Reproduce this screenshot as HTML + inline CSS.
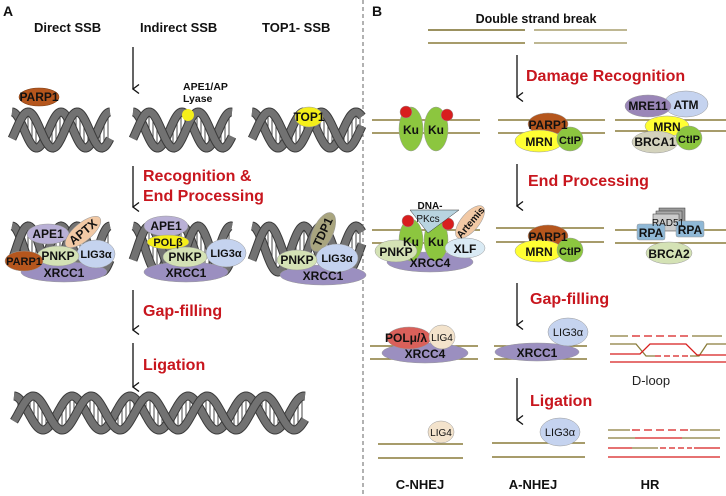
<!DOCTYPE html>
<html><head><meta charset="utf-8"><style>
body{margin:0;background:#fff}
svg{display:block;font-family:"Liberation Sans",Arial,sans-serif}
.b{font-weight:bold;fill:#111}
.r{font-weight:bold;fill:#c8161e;font-size:16px}
.p{font-weight:bold;font-size:12px;text-anchor:middle;fill:#111}
</style></head><body>
<svg id="s" width="726" height="496" viewBox="0 0 726 496" xmlns="http://www.w3.org/2000/svg">
<defs><marker id="ah" markerWidth="10" markerHeight="10" refX="5" refY="9" orient="auto" markerUnits="userSpaceOnUse"><path d="M0.5,3 L5,9 L9.5,3" fill="none" stroke="#111" stroke-width="1.3"/></marker></defs>
<g id="helices"></g>
<line x1="363" y1="0" x2="363" y2="496" stroke="#666" stroke-dasharray="4,3"/>
<text x="3" y="16" class="b" font-size="14">A</text>
<text x="372" y="16" class="b" font-size="14">B</text>
<text x="34" y="32" class="b" font-size="13">Direct SSB</text>
<text x="140" y="32" class="b" font-size="13">Indirect SSB</text>
<text x="262" y="32" class="b" font-size="13">TOP1- SSB</text>
<g stroke="#111" stroke-width="1.3" marker-end="url(#ah)">
<line x1="133" y1="47" x2="133" y2="89"/>
<line x1="133" y1="166" x2="133" y2="207"/>
<line x1="133" y1="290" x2="133" y2="330"/>
<line x1="133" y1="343" x2="133" y2="387"/>
<line x1="517" y1="55" x2="517" y2="97"/>
<line x1="517" y1="164" x2="517" y2="206"/>
<line x1="517" y1="283" x2="517" y2="325"/>
<line x1="517" y1="378" x2="517" y2="420"/>
</g>
<text x="143" y="181" class="r">Recognition &amp;</text>
<text x="143" y="201" class="r">End Processing</text>
<text x="143" y="316" class="r">Gap-filling</text>
<text x="143" y="370" class="r">Ligation</text>
<text x="526" y="81" class="r">Damage Recognition</text>
<text x="528" y="186" class="r">End Processing</text>
<text x="530" y="304" class="r">Gap-filling</text>
<text x="530" y="406" class="r">Ligation</text>
<text x="536" y="23" class="b" font-size="12.5" text-anchor="middle">Double strand break</text>
<g stroke-width="1.5">
<line x1="428" y1="30" x2="525" y2="30" stroke="#7a6d2c"/><line x1="428" y1="43" x2="525" y2="43" stroke="#8a7c3a"/>
<line x1="534" y1="30" x2="627" y2="30" stroke="#a89f6e"/><line x1="534" y1="43" x2="627" y2="43" stroke="#a89f6e"/>
</g>
<ellipse cx="39" cy="97" rx="20" ry="9" fill="#b5561d" stroke="#7a3a10" stroke-width=".6"/><text x="39" y="101" class="p" font-size="11">PARP1</text>
<text x="183" y="90" class="b" font-size="10.5">APE1/AP</text><text x="183" y="102" class="b" font-size="10.5">Lyase</text>
<circle cx="188" cy="115" r="6" fill="#f5ef1a"/>
<ellipse cx="309" cy="117" rx="14" ry="10" fill="#f5ef1a" stroke="#999" stroke-width=".5"/><text x="309" y="121" class="p" font-size="10">TOP1</text>
<g stroke="#999" stroke-width=".5">
<ellipse cx="64" cy="272" rx="43" ry="10" fill="#9b8fc0"/>
<ellipse cx="48" cy="234" rx="21" ry="10" fill="#b9b0d6"/>
<ellipse cx="83" cy="232" rx="22" ry="9" fill="#f2c9a5" transform="rotate(-40 83 232)"/>
<ellipse cx="96" cy="254" rx="19" ry="14" fill="#c5d3ef"/>
<ellipse cx="58" cy="256" rx="21" ry="10" fill="#d4e2b5"/>
<ellipse cx="24" cy="261" rx="19" ry="10" fill="#b5561d"/>
<ellipse cx="186" cy="272" rx="42" ry="10" fill="#9b8fc0"/>
<ellipse cx="166" cy="226" rx="22" ry="10" fill="#b9b0d6"/>
<ellipse cx="168" cy="242" rx="21" ry="7" fill="#f5ef1a"/>
<ellipse cx="226" cy="253" rx="20" ry="14" fill="#c5d3ef"/>
<ellipse cx="185" cy="257" rx="22" ry="10" fill="#d4e2b5"/>
<ellipse cx="323" cy="275" rx="43" ry="10" fill="#9b8fc0"/>
<ellipse cx="323" cy="232" rx="21" ry="10" fill="#a9a57f" transform="rotate(-65 323 232)"/>
<ellipse cx="337" cy="258" rx="21" ry="14" fill="#c5d3ef"/>
<ellipse cx="297" cy="260" rx="20" ry="10" fill="#d4e2b5"/>
</g>
<g class="p">
<text x="64" y="277">XRCC1</text><text x="48" y="238">APE1</text><text x="83" y="236" transform="rotate(-40 83 232)">APTX</text>
<text x="96" y="258" font-size="11">LIG3α</text><text x="58" y="260">PNKP</text><text x="24" y="265" font-size="11">PARP1</text>
<text x="186" y="277">XRCC1</text><text x="166" y="230">APE1</text><text x="168" y="246" font-size="11">POLβ</text>
<text x="226" y="257" font-size="11">LIG3α</text><text x="185" y="261">PNKP</text>
<text x="323" y="280">XRCC1</text><text x="323" y="236" transform="rotate(-65 323 232)">TDP1</text>
<text x="337" y="262" font-size="11">LIG3α</text><text x="297" y="264">PNKP</text>
</g>
<g stroke="#8a7c3a" stroke-width="1.5">
<line x1="372" y1="120" x2="480" y2="120"/><line x1="372" y1="133" x2="480" y2="133"/>
<line x1="498" y1="120" x2="605" y2="120"/><line x1="498" y1="133" x2="605" y2="133"/>
<line x1="615" y1="120" x2="726" y2="120"/><line x1="615" y1="131" x2="726" y2="131"/>
<line x1="372" y1="230" x2="480" y2="230"/><line x1="372" y1="243" x2="480" y2="243"/>
<line x1="496" y1="228" x2="604" y2="228"/><line x1="496" y1="242" x2="604" y2="242"/>
<line x1="615" y1="230" x2="726" y2="230"/><line x1="615" y1="243" x2="726" y2="243"/>
<line x1="370" y1="346" x2="478" y2="346"/><line x1="370" y1="359" x2="478" y2="359"/>
<line x1="494" y1="346" x2="587" y2="346"/><line x1="494" y1="359" x2="587" y2="359"/>
<line x1="378" y1="444" x2="463" y2="444"/><line x1="378" y1="458" x2="463" y2="458"/>
<line x1="492" y1="443" x2="585" y2="443"/><line x1="492" y1="457" x2="585" y2="457"/>
</g>
<g stroke="#999" stroke-width=".5">
<ellipse cx="411" cy="129" rx="12" ry="22" fill="#8cc63f"/><ellipse cx="436" cy="129" rx="12" ry="22" fill="#8cc63f"/>
<circle cx="406" cy="112" r="6" fill="#d81e1e"/><circle cx="447" cy="115" r="6" fill="#d81e1e"/>
<ellipse cx="548" cy="124" rx="20" ry="11" fill="#b5561d"/><ellipse cx="539" cy="141" rx="24" ry="11" fill="#ffff33"/><ellipse cx="570" cy="139" rx="13" ry="12" fill="#8cc63f"/>
<ellipse cx="686" cy="104" rx="22" ry="13" fill="#c5d3ef"/><ellipse cx="648" cy="106" rx="23" ry="11" fill="#9a86b8"/>
<ellipse cx="667" cy="126" rx="22" ry="10" fill="#ffff33"/><ellipse cx="655" cy="142" rx="23" ry="11" fill="#d4d3bd"/><ellipse cx="689" cy="138" rx="13" ry="12" fill="#8cc63f"/>
<ellipse cx="430" cy="262" rx="43" ry="10" fill="#9b8fc0"/>
<ellipse cx="411" cy="240" rx="12" ry="21" fill="#8cc63f"/><ellipse cx="436" cy="240" rx="12" ry="21" fill="#8cc63f"/>
<circle cx="408" cy="221" r="6" fill="#d81e1e"/><circle cx="448" cy="224" r="6" fill="#d81e1e"/>
<polygon points="410,210 459,210 428,233" fill="#b8d4e0" stroke="#333"/>
<ellipse cx="470" cy="222" rx="20" ry="9" fill="#f2c9a5" transform="rotate(-50 470 222)"/>
<ellipse cx="465" cy="248" rx="20" ry="10" fill="#d9eaf4"/>
<ellipse cx="396" cy="251" rx="21" ry="11" fill="#d4e2b5"/>
<ellipse cx="548" cy="236" rx="20" ry="11" fill="#b5561d"/><ellipse cx="539" cy="251" rx="24" ry="11" fill="#ffff33"/><ellipse cx="570" cy="250" rx="13" ry="12" fill="#8cc63f"/>
<rect x="659" y="208" width="26" height="17" fill="#999" stroke="#333"/><rect x="656" y="211" width="26" height="17" fill="#aaa" stroke="#333"/><rect x="653" y="214" width="26" height="17" fill="#ccc" stroke="#333"/>
<ellipse cx="669" cy="253" rx="23" ry="11" fill="#d4e2b5"/>
<rect x="637" y="224" width="28" height="16" rx="2" fill="#8fb8d6"/><rect x="676" y="221" width="28" height="16" rx="2" fill="#8fb8d6"/>
<ellipse cx="425" cy="353" rx="43" ry="10" fill="#9b8fc0"/><ellipse cx="409" cy="338" rx="22" ry="11" fill="#d9605a"/><ellipse cx="442" cy="337" rx="13" ry="12" fill="#f3e3cc"/>
<ellipse cx="537" cy="352" rx="42" ry="9" fill="#9b8fc0"/><ellipse cx="568" cy="332" rx="20" ry="14" fill="#c5d3ef"/>
<ellipse cx="441" cy="432" rx="13" ry="11" fill="#f3e3cc"/><ellipse cx="560" cy="432" rx="20" ry="14" fill="#c5d3ef"/>
</g>
<g class="p">
<text x="411" y="134">Ku</text><text x="436" y="134">Ku</text>
<text x="548" y="129">PARP1</text><text x="539" y="146">MRN</text><text x="570" y="144" font-size="11">CtIP</text>
<text x="686" y="109">ATM</text><text x="648" y="110">MRE11</text><text x="667" y="131">MRN</text><text x="655" y="146">BRCA1</text><text x="689" y="143" font-size="11">CtIP</text>
<text x="430" y="267">XRCC4</text><text x="411" y="246">Ku</text><text x="436" y="246">Ku</text>
<text x="430" y="209" font-size="10">DNA-</text><text x="428" y="222" font-size="10" font-weight="normal">PKcs</text>
<text x="470" y="226" font-size="10" transform="rotate(-50 470 222)">Artemis</text>
<text x="465" y="253">XLF</text><text x="396" y="256">PNKP</text>
<text x="548" y="241">PARP1</text><text x="539" y="256">MRN</text><text x="570" y="255" font-size="11">CtIP</text>
<text x="668" y="226" font-size="10" font-weight="normal">RAD51</text>
<text x="651" y="237">RPA</text><text x="690" y="234">RPA</text><text x="669" y="258">BRCA2</text>
<text x="425" y="358">XRCC4</text><text x="406" y="342">POLμ/λ</text><text x="442" y="341" font-size="10" font-weight="normal">LIG4</text>
<text x="537" y="357">XRCC1</text><text x="568" y="336" font-size="11" font-weight="normal">LIG3α</text>
<text x="441" y="436" font-size="10" font-weight="normal">LIG4</text><text x="560" y="436" font-size="11" font-weight="normal">LIG3α</text>
</g>
<g fill="none" stroke-width="1.3">
<path d="M610,336 H628" stroke="#8a7c3a"/><path d="M632,336 H688" stroke="#d81e1e" stroke-dasharray="8,4"/><path d="M692,336 H722" stroke="#8a7c3a"/>
<path d="M610,344 H636 L646,356 H655" stroke="#8a7c3a"/><path d="M690,356 H699 L707,344 H726" stroke="#8a7c3a"/>
<path d="M655,356 H690" stroke="#d81e1e" stroke-dasharray="6,3"/>
<path d="M610,354 H640 L650,344 H686 L697,355 H726" stroke="#d81e1e"/>
<path d="M610,362 H726" stroke="#d81e1e"/>
<path d="M608,430 H630" stroke="#8a7c3a"/><path d="M632,430 H688" stroke="#d81e1e" stroke-dasharray="8,4"/><path d="M690,430 H720" stroke="#8a7c3a"/>
<path d="M608,438 H635" stroke="#8a7c3a"/><path d="M635,438 H682" stroke="#d81e1e"/><path d="M682,438 H720" stroke="#8a7c3a"/>
<path d="M608,448 H632" stroke="#d81e1e"/><path d="M632,448 H658" stroke="#8a7c3a"/><path d="M660,448 H692" stroke="#d81e1e" stroke-dasharray="6,3"/><path d="M694,448 H720" stroke="#d81e1e"/>
<path d="M608,457 H720" stroke="#d81e1e"/>
</g>
<text x="651" y="385" font-size="13" text-anchor="middle" fill="#222">D-loop</text>
<text x="420" y="489" class="b" font-size="13" text-anchor="middle">C-NHEJ</text>
<text x="533" y="489" class="b" font-size="13" text-anchor="middle">A-NHEJ</text>
<text x="650" y="489" class="b" font-size="13" text-anchor="middle">HR</text>
</svg>
<script>
(function(){
var g=document.getElementById('helices'),ns='http://www.w3.org/2000/svg';
function helix(x0,x1,yt,yb,P){
 var cy=(yt+yb)/2,A=(yb-yt)/2-4,out='';
 for(var x=x0+4;x<x1;x+=4){
  var a=cy-A*Math.cos(2*Math.PI*((x-x0)/P)),b=cy-A*Math.cos(2*Math.PI*((x-x0)/P-0.33));
  var l=document.createElementNS(ns,'line');l.setAttribute('x1',x);l.setAttribute('x2',x);l.setAttribute('y1',a);l.setAttribute('y2',b);l.setAttribute('stroke','#666');l.setAttribute('stroke-width','1.2');g.appendChild(l);
 }
 [0,0.33].forEach(function(ph){
  var d='';for(var x=x0;x<=x1;x+=1){var y=cy-A*Math.cos(2*Math.PI*((x-x0)/P-ph));d+=(x==x0?'M':'L')+x+','+y.toFixed(1);}
  var p=document.createElementNS(ns,'path');p.setAttribute('d',d);p.setAttribute('fill','none');p.setAttribute('stroke','#3a3a3a');p.setAttribute('stroke-width','9');g.appendChild(p);
  p=p.cloneNode();p.setAttribute('stroke','#727272');p.setAttribute('stroke-width','7');g.appendChild(p);
 });
}
helix(12,110,108,152,49);helix(133,232,108,152,49);helix(252,362,108,152,52);
helix(12,110,222,276,49);helix(133,232,222,276,49);helix(252,362,222,276,52);
helix(14,305,392,434,58);
})();
</script>
</body></html>
